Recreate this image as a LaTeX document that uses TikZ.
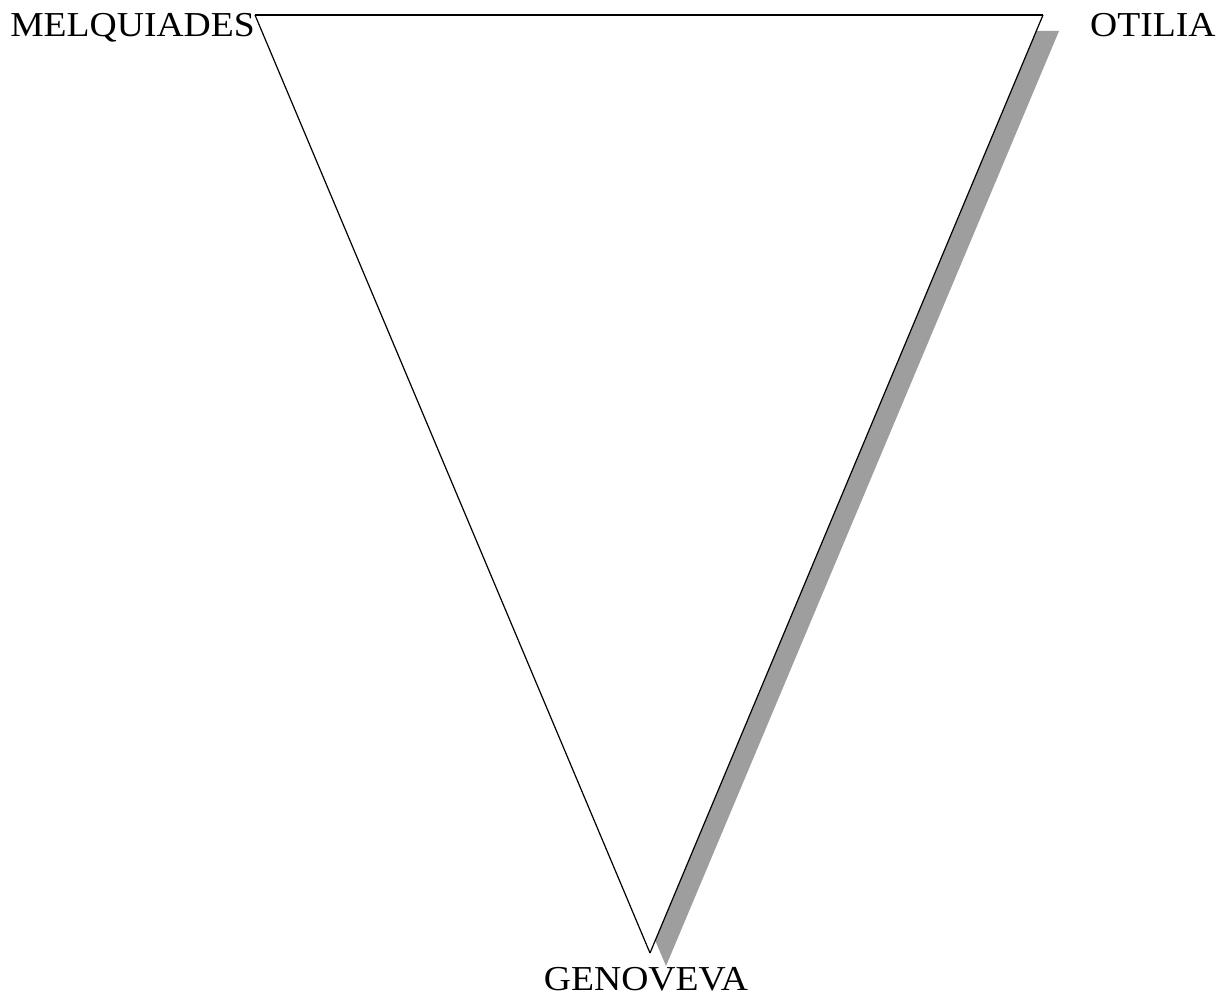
\documentclass[tikz,border=0pt]{standalone}
\usepackage{fontspec}
\setmainfont[FakeStretch=1.075]{Liberation Serif}
\begin{document}
\begin{tikzpicture}[x=1pt,y=-1pt,
  lbl/.style={inner sep=0pt,font=\fontsize{35}{35}\selectfont},
  edge/.style={draw=black,line width=1.2pt,line join=miter},
  shadowfill/.style={fill=black!38,draw=none}]
\useasboundingbox (0,0) rectangle (1231,1000);
\coordinate (M) at (255,15);
\coordinate (O) at (1043,15);
\coordinate (G) at (650,953);
\coordinate (Ms) at (271,31);
\coordinate (Os) at (1059,31);
\coordinate (Gs) at (666,966);
% shadow
\path[shadowfill] (Ms) -- (Os) -- (Gs) -- cycle;
% triangle
\path[fill=white] (M) -- (O) -- (G) -- cycle;
\draw[edge] (M) -- (O);
\draw[edge] (O) -- (G);
\draw[edge] (G) -- (M);
\node[lbl,anchor=base east] (lm) at (255,37) {MELQUIADES};
\node[lbl,anchor=base west] (lo) at (1090,37) {OTILIA};
\node[lbl,anchor=base] (lg) at (646,990) {GENOVEVA};
\end{tikzpicture}
\end{document}
